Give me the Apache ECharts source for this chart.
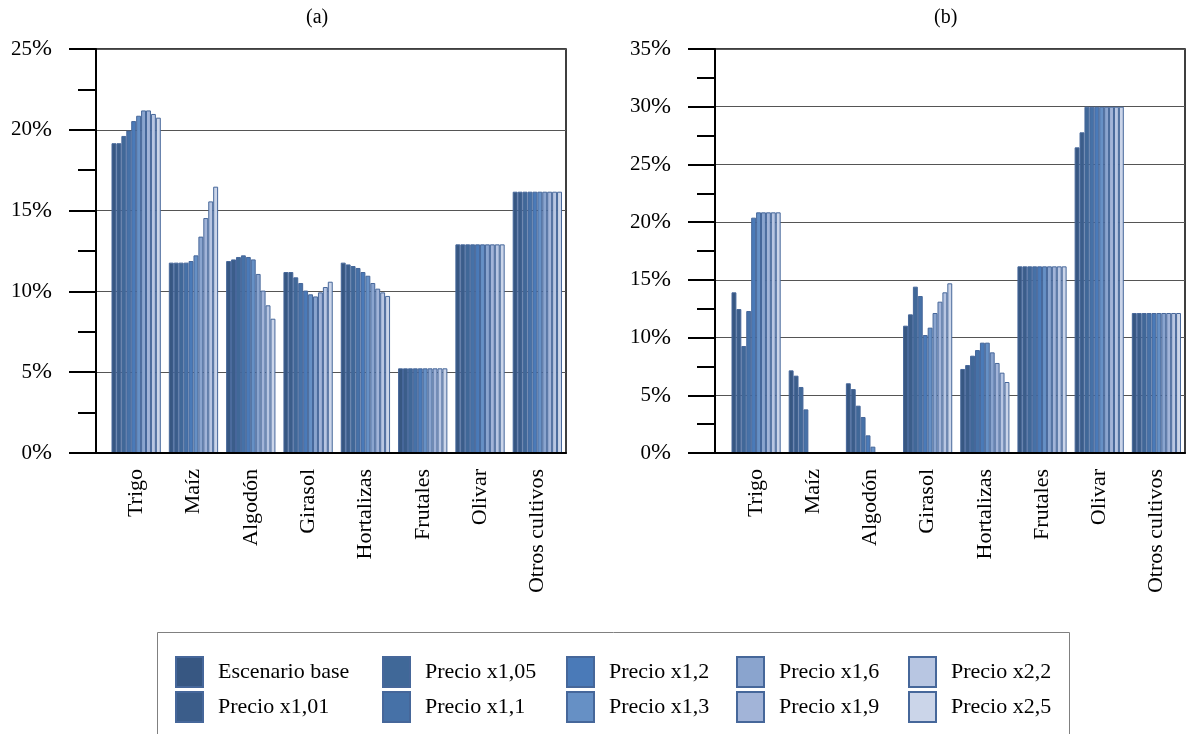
<!DOCTYPE html>
<html>
<head>
<meta charset="utf-8">
<script src="https://cdn.jsdelivr.net/npm/echarts@6/dist/echarts.min.js"></script>
<style>
  html, body { margin: 0; padding: 0; background: #fff; }
  #chart { width: 1186px; height: 734px; }
</style>
</head>
<body>
<div id="chart"></div>
<script>
// Crops on the category axis
const crops = ['Trigo', 'Maíz', 'Algodón', 'Girasol', 'Hortalizas', 'Frutales', 'Olivar', 'Otros cultivos'];

// Price scenarios (one bar per scenario inside each crop group)
const scenarios = ['Escenario base', 'Precio x1,01', 'Precio x1,05', 'Precio x1,1', 'Precio x1,2',
                   'Precio x1,3', 'Precio x1,6', 'Precio x1,9', 'Precio x2,2', 'Precio x2,5'];

// Panel (a): share of each crop (%) per scenario
const trigoA      = [19.17, 19.17, 19.62, 19.95, 20.54, 20.87, 21.2, 21.2, 20.98, 20.75];
const maizA       = [11.78, 11.78, 11.78, 11.78, 11.88, 12.23, 13.39, 14.54, 15.57, 16.48];
const algodonA    = [11.88, 11.98, 12.13, 12.23, 12.13, 11.98, 11.08, 10.05, 9.14, 8.31];
const girasolA    = [11.2, 11.2, 10.87, 10.52, 10.05, 9.82, 9.69, 9.94, 10.27, 10.6];
const hortalizasA = [11.78, 11.67, 11.57, 11.45, 11.2, 10.97, 10.52, 10.17, 9.94, 9.72];
const frutalesA   = [5.24, 5.24, 5.24, 5.24, 5.24, 5.24, 5.24, 5.24, 5.24, 5.24];
const olivarA     = [12.91, 12.91, 12.91, 12.91, 12.91, 12.91, 12.91, 12.91, 12.91, 12.91];
const otrosA      = [16.17, 16.17, 16.17, 16.17, 16.17, 16.17, 16.17, 16.17, 16.17, 16.17];

// Panel (b): share of each crop (%) per scenario
const trigoB      = [13.92, 12.47, 9.27, 12.3, 20.39, 20.85, 20.85, 20.85, 20.85, 20.85];
const maizB       = [7.16, 6.7, 5.72, 3.78, 0, 0, 0, 0, 0, 0];
const algodonB    = [6.04, 5.54, 4.1, 3.12, 1.53, 0.55, 0, 0, 0, 0];
const girasolB    = [11.03, 12.01, 14.41, 13.6, 10.22, 10.86, 12.13, 13.11, 13.92, 14.7];
const hortalizasB = [7.28, 7.62, 8.43, 8.92, 9.56, 9.56, 8.72, 7.8, 6.96, 6.15];
const frutalesB   = [16.17, 16.17, 16.17, 16.17, 16.17, 16.17, 16.17, 16.17, 16.17, 16.17];
const olivarB     = [26.48, 27.78, 30, 30, 30, 30, 30, 30, 30, 30];
const otrosB      = [12.13, 12.13, 12.13, 12.13, 12.13, 12.13, 12.13, 12.13, 12.13, 12.13];

// Value axis ranges (%)
const yMaxA = 25;
const yMaxB = 35;
const yStep = 5;

// Blue ramp, dark to light
const colors = ['#375782', '#3b5d8a', '#406898', '#4671a7', '#4a7ab8',
                '#6690c5', '#8aa4ce', '#a2b4d8', '#b8c6e2', '#cbd5e9'];

const panelA = [trigoA, maizA, algodonA, girasolA, hortalizasA, frutalesA, olivarA, otrosA];
const panelB = [trigoB, maizB, algodonB, girasolB, hortalizasB, frutalesB, olivarB, otrosB];

const FONT = 'Liberation Serif';

function frameY(max, gridIndex) {
  return {
    type: 'value', gridIndex: gridIndex, min: 0, max: max, interval: yStep,
    axisLine: { show: true, lineStyle: { color: '#000', width: 2 } },
    axisTick: { show: true, length: 27, lineStyle: { color: '#000', width: 2 } },
    minorTick: { show: true, splitNumber: 2, length: 18, lineStyle: { color: '#000', width: 2 } },
    splitLine: { show: true, lineStyle: { color: '#555', width: 1 } },
    axisLabel: {
      margin: 44, color: '#000',
      formatter: v => '{n|' + v + '}{p|%}',
      rich: {
        n: { fontFamily: FONT, fontSize: 21, color: '#000' },
        p: { fontFamily: FONT, fontSize: 24, color: '#000' }
      }
    }
  };
}
// Bottom frame line, kept above the bars so zero-height bars vanish into it
function frameX(gridIndex) {
  return {
    type: 'value', gridIndex: gridIndex, min: 0, max: 1, z: 10,
    axisLine: { show: true, onZero: false, lineStyle: { color: '#000', width: 2 } },
    axisTick: { show: false }, axisLabel: { show: false }, splitLine: { show: false }
  };
}
function barsX(gridIndex) {
  return {
    type: 'category', gridIndex: gridIndex, data: crops,
    axisLine: { show: false }, axisTick: { show: false },
    axisLabel: { interval: 0, rotate: 90, margin: 16, color: '#000', fontFamily: FONT, fontSize: 22 }
  };
}
function barsY(max, gridIndex) {
  return { type: 'value', gridIndex: gridIndex, min: 0, max: max, interval: yStep, show: false,
           splitLine: { show: false } };
}

const series = [];
function addPanel(panel, axisIndex) {
  scenarios.forEach((name, s) => {
    series.push({
      name: name, type: 'bar', xAxisIndex: axisIndex, yAxisIndex: axisIndex,
      data: panel.map(crop => crop[s]),
      barGap: '0%', barCategoryGap: '14%',
      itemStyle: { color: colors[s], borderColor: '#46679a', borderWidth: 1 },
      emphasis: { disabled: true },
      animation: false
    });
  });
}
addPanel(panelA, 1);
addPanel(panelB, 3);

// Legend: 5 columns x 2 rows, one entry per legend component
const legendCols = [175, 382, 566, 736, 908];
const legendRows = [656, 691];
const legends = scenarios.map((name, i) => ({
  orient: 'horizontal',
  left: legendCols[Math.floor(i / 2)],
  top: legendRows[i % 2],
  padding: 0,
  data: [{ name: name, icon: 'rect' }],
  itemWidth: 27, itemHeight: 30,
  selectedMode: false,
  textStyle: { fontFamily: FONT, fontSize: 22, color: '#000', padding: [0, 0, 0, 10] }
}));

const option = {
  backgroundColor: '#fff',
  animation: false,
  grid: [
    { left: 96, top: 49, width: 470, height: 404, show: true, borderColor: '#000', borderWidth: 1.5, backgroundColor: 'transparent' },
    { left: 107.5, top: 49, width: 458.5, height: 404 },
    { left: 715, top: 49, width: 470, height: 404, show: true, borderColor: '#000', borderWidth: 1.5, backgroundColor: 'transparent' },
    { left: 727.5, top: 49, width: 457.5, height: 404 }
  ],
  xAxis: [frameX(0), barsX(1), frameX(2), barsX(3)],
  yAxis: [frameY(yMaxA, 0), barsY(yMaxA, 1), frameY(yMaxB, 2), barsY(yMaxB, 3)],
  legend: legends,
  series: series,
  graphic: [
    { type: 'text', left: 306, top: 8, style: { text: '(a)', font: '20px "Liberation Serif"', fill: '#000' } },
    { type: 'text', left: 934, top: 8, style: { text: '(b)', font: '20px "Liberation Serif"', fill: '#000' } },
    { type: 'rect', shape: { x: 157.5, y: 632.5, width: 912, height: 130 },
      style: { fill: 'none', stroke: '#808080', lineWidth: 1 }, z: -1 }
  ]
};

const chart = echarts.init(document.getElementById('chart'), null, { renderer: 'canvas' });
chart.setOption(option);
</script>
</body>
</html>
